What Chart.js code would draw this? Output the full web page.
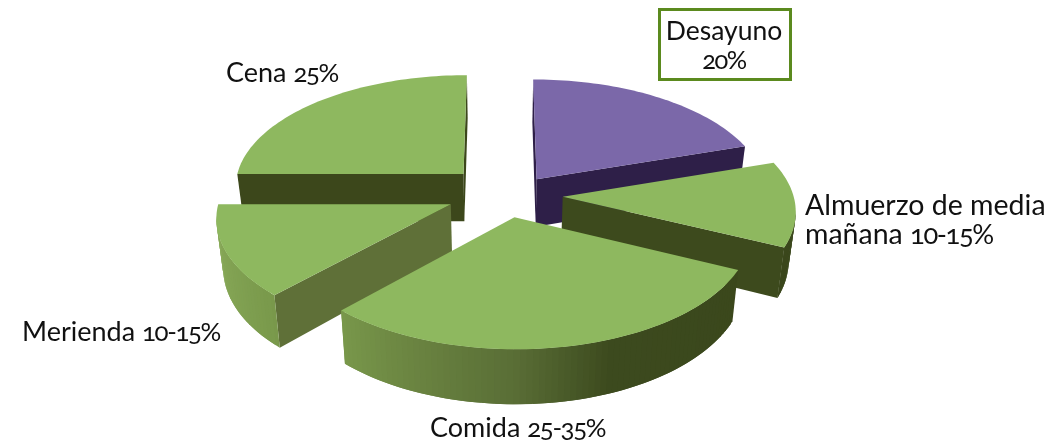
<!DOCTYPE html>
<html>
<head>
<meta charset="utf-8">
<style>
  html, body { margin: 0; padding: 0; background: #fff; }
  #wrap { position: relative; width: 1049px; height: 445px; overflow: hidden; }
  .lab { position: absolute; white-space: nowrap; color: #111; line-height: 29px; font-family: Lato; font-feature-settings: "onum"; }
  .lab .n { font-size: 0.96em; letter-spacing: -1.4px; }
</style>
<script src="https://cdn.jsdelivr.net/npm/chart.js@4"></script>
</head>
<body>
<div id="wrap"><canvas id="pie" width="1049" height="445"></canvas></div>
<script>
const categories = ["Desayuno", "Almuerzo de media mañana", "Comida", "Merienda", "Cena"];
const shares = [20, 12, 30, 13, 25];
const explode = [51, 51, 51, 51, 51];

// slice colours
const topColors = ["#7b68a9", "#8eb85f", "#8eb85f", "#8eb85f", "#8eb85f"];
const cutColors = ["#2e1f48", "#3d4a1d", "#3d4a1d", "#5f7038", "#3c471b"];

// labels sit around the pie by hand, as in the original slide
const labelLines = [["Desayuno", "20%"], ["Almuerzo de media", "mañana 10-15%"], ["Comida 25-35%"], ["Merienda 10-15%"], ["Cena 25%"]];
const labelX = [724, 805, 430, 22, 226];
const labelY = [16, 190, 412, 316, 57];
const labelSize = [26.5, 28.5, 27, 27, 27];
const labelAlign = ["center", "left", "left", "left", "left"];

// 3D view
const view = { cx: 500, cy: 192, k: 0.49, persp: 0.00045, radius: 230, depth: 48, pull: 0.0005 };
const nudgeX = [2, 3, 3, 6, 5];
const nudgeY = [22, 6, -8, 1, 5];

// outer wall shade along the angle (degrees from 12 o'clock)
const wallStops = [[90, [58, 70, 27]], [158, [60, 74, 30]], [180, [90, 110, 54]], [225, [122, 154, 76]], [270, [141, 174, 93]]];

function wallColor(index, deg) {
  if (index === 0) return "#2e1f48";
  if (deg <= wallStops[0][0]) return "rgb(" + wallStops[0][1] + ")";
  for (let i = 1; i < wallStops.length; i++) {
    const [d0, c0] = wallStops[i - 1];
    const [d1, c1] = wallStops[i];
    if (deg <= d1) {
      const t = (deg - d0) / (d1 - d0);
      return "rgb(" + c0.map((c, n) => Math.round(c + (c1[n] - c) * t)) + ")";
    }
  }
  return "rgb(" + wallStops[wallStops.length - 1][1] + ")";
}

function project(x, y, z) {
  const s = 1 / (1 - view.persp * y);
  const shrink = 1 - z * view.pull;
  return { x: view.cx + x * s * shrink, y: view.cy + view.k * y * s + z * s };
}

function fillPoly(ctx, pts, color) {
  ctx.beginPath();
  pts.forEach((p, i) => (i ? ctx.lineTo(p.x, p.y) : ctx.moveTo(p.x, p.y)));
  ctx.closePath();
  ctx.fillStyle = color;
  ctx.fill();
}

function drawSlice(ctx, arc, index) {
  const { startAngle, endAngle, outerRadius, options } = arc;
  const f = view.radius / outerRadius;
  const mid = (startAngle + endAngle) / 2;
  const ax = Math.cos(mid) * options.offset * f + nudgeX[index];
  const ay = Math.sin(mid) * options.offset * f + nudgeY[index];

  const steps = Math.ceil((endAngle - startAngle) * 40);
  const rim = [];
  for (let i = 0; i <= steps; i++) {
    const a = startAngle + (endAngle - startAngle) * i / steps;
    rim.push({ a, x: ax + Math.cos(a) * view.radius, y: ay + Math.sin(a) * view.radius });
  }
  const first = rim[0], last = rim[rim.length - 1];
  const wall = (p, q, color) => fillPoly(ctx, [project(p.x, p.y, 0), project(q.x, q.y, 0), project(q.x, q.y, view.depth), project(p.x, p.y, view.depth)], color);

  const apex = { x: ax, y: ay };
  if (project(first.x, first.y, 0).x < project(ax, ay, 0).x) wall(apex, first, cutColors[index]);
  if (project(ax, ay, 0).x < project(last.x, last.y, 0).x) wall(last, apex, cutColors[index]);
  // each strip runs a little under the next one, so no seams show
  for (let i = 0; i < steps; i++) {
    const p = rim[i], q = rim[i + 1], over = rim[Math.min(i + 2, steps)];
    if (project(q.x, q.y, 0).x < project(p.x, p.y, 0).x) {
      wall(p, over, wallColor(index, ((p.a + Math.PI / 2) * 180) / Math.PI));
    }
  }
  fillPoly(ctx, [apex, ...rim].map(p => project(p.x, p.y, 0)), topColors[index]);
}

const pie3d = {
  id: "pie3d",
  beforeDatasetsDraw(chart) {
    const ctx = chart.ctx;
    const arcs = chart.getDatasetMeta(0).data;
    const order = arcs.map((arc, i) => i).sort((a, b) => Math.sin((arcs[a].startAngle + arcs[a].endAngle) / 2) - Math.sin((arcs[b].startAngle + arcs[b].endAngle) / 2));
    ctx.save();
    order.forEach(i => drawSlice(ctx, arcs[i], i));
    ctx.restore();
    return false;
  }
};

new Chart(document.getElementById("pie"), {
  type: "pie",
  data: {
    labels: categories,
    datasets: [{
      data: shares,
      offset: explode,
      backgroundColor: topColors,
      borderWidth: 0
    }]
  },
  options: {
    responsive: false,
    animation: false,
    events: [],
    plugins: { legend: { display: false }, tooltip: { enabled: false } }
  },
  plugins: [pie3d]
});

// text labels
const wrap = document.getElementById("wrap");
labelLines.forEach((lines, i) => {
  const el = document.createElement("div");
  el.className = "lab";
  el.style.left = labelX[i] + "px";
  el.style.top = labelY[i] + "px";
  el.style.fontSize = labelSize[i] + "px";
  el.style.textAlign = labelAlign[i];
  if (labelAlign[i] === "center") el.style.transform = "translateX(-50%)";
  el.innerHTML = lines.map(line => line.replace(/[\d\-%]+/, m => '<span class="n">' + m + "</span>")).join("<br>");
  wrap.appendChild(el);
});
const box = document.createElement("div");
box.style.cssText = "position:absolute;left:658px;top:8px;width:128px;height:67px;border:3px solid #5b8a1e;";
wrap.appendChild(box);
</script>
</body>
</html>
